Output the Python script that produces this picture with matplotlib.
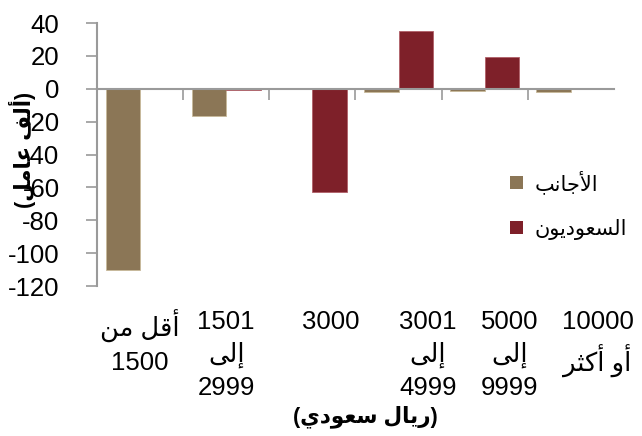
import matplotlib
matplotlib.use("Agg")
import matplotlib.pyplot as plt
from matplotlib.patches import Patch
from matplotlib.transforms import blended_transform_factory
import numpy as np

plt.rcParams['font.family'] = ['Liberation Sans', 'DejaVu Sans']

# Arabic text written in presentation forms, visual (left-to-right) order
categories = [
    "\uFEE6\uFEE3 \uFEDE\uFED7\uFE83\n1500",          # أقل من 1500
    "1501\n\uFEF0\uFEDF\uFE87\n2999",                  # 1501 إلى 2999
    "3000",
    "3001\n\uFEF0\uFEDF\uFE87\n4999",
    "5000\n\uFEF0\uFEDF\uFE87\n9999",
    "10000\n\uFEAE\uFE9C\uFEDB\uFE83 \uFEED\uFE83",   # 10000 أو أكثر
]
foreigners = [-110, -16.5, -0.3, -2.2, -1.5, -2.0]
saudis = [0.0, -0.5, -63, 35, 19.5, 0.0]

series_names = [
    "\uFE90\uFEE7\uFE8E\uFE9F\uFEF7\uFE8D",                      # الأجانب
    "\uFEE5\uFEEE\uFEF3\uFEA9\uFEEE\uFECC\uFEB4\uFEDF\uFE8D",   # السعوديون
]
x_title = "(\uFEF1\uFEA9\uFEEE\uFECC\uFEB3 \uFEDD\uFE8E\uFEF3\uFEAD)"   # (ريال سعودي)
y_title = "(\uFEDE\uFEE3\uFE8E\uFECB \uFED2\uFEDF\uFE83)"              # (ألف عامل)
y_ticks = [40, 20, 0, -20, -40, -60, -80, -100, -120]

color_f = "#8B7656"
color_s = "#7E2029"
axis_gray = "#9A9A9A"
FS = 18.5

label_offsets = [0.0, 0.0, 0.21, 0.34, 0.29, 0.31]

fig = plt.figure(figsize=(6.42, 4.36), dpi=100)
ax = fig.add_axes([97/642, 1-286/436, (614-97)/642, (286-23)/436])

x = np.arange(len(categories))
w = 0.4
ax.bar(x - w/2, foreigners, w, color=color_f, edgecolor="#C8B99A", linewidth=0.6, align='center')
ax.bar(x + w/2, saudis, w, color=color_s, edgecolor="#B06068", linewidth=0.6, align='center')

ax.set_xlim(-0.5, len(categories) - 0.5)
ax.set_ylim(min(y_ticks), max(y_ticks))
ax.set_yticks(y_ticks)
ax.set_yticklabels([str(v) for v in y_ticks], fontsize=FS)
ax.tick_params(axis='y', length=8, width=1.2, color=axis_gray, pad=19)

for s in ['top', 'right']:
    ax.spines[s].set_visible(False)
ax.spines['left'].set_color(axis_gray)
ax.spines['left'].set_linewidth(1.5)
ax.spines['bottom'].set_position(('data', 0))
ax.spines['bottom'].set_color(axis_gray)
ax.spines['bottom'].set_linewidth(1.5)
ax.set_xticks(np.arange(1, len(categories)) - 0.5)
ax.set_xticklabels([])
ax.tick_params(axis='x', length=8, width=1.2, color=axis_gray, direction='out')

trans = blended_transform_factory(ax.transData, fig.transFigure)
for i, lab in enumerate(categories):
    ax.text(i + label_offsets[i], 1 - 310/436, lab, transform=trans, ha='center', va='top',
            fontsize=FS, linespacing=1.4, clip_on=False)

fig.text(365/642, 1 - 417/436, x_title, ha='center', va='center', fontsize=15.5, fontweight='bold')
fig.text(22/642, 1 - 150/436, y_title, ha='center', va='center', fontsize=15.5, fontweight='bold',
         rotation=90)

handles = [Patch(facecolor=color_f, edgecolor='none'), Patch(facecolor=color_s, edgecolor='none')]
fig.legend(handles, series_names, loc='upper left', bbox_to_anchor=(510/642, 1 - 170/436),
           frameon=False, fontsize=15, handlelength=0.6, handleheight=0.6, handletextpad=0.6,
           labelspacing=1.2, borderaxespad=0, borderpad=0)

fig.savefig("out.png", dpi=100)
